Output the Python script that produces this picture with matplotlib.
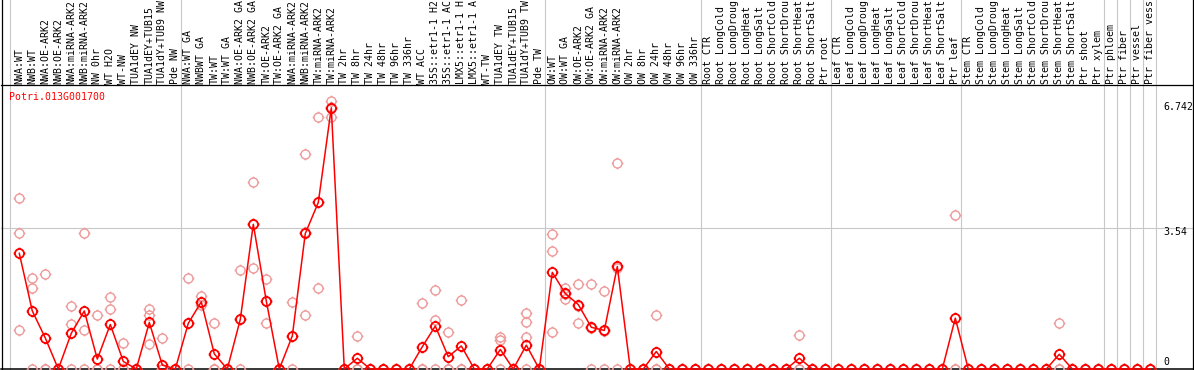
import numpy as np
import matplotlib
matplotlib.use("Agg")
import matplotlib.pyplot as plt
from matplotlib.path import Path

# ---------------- data ----------------
gene = "Potri.013G001700"

samples = [
    "NWA:WT", "NWB:WT", "NWA:OE-ARK2", "NWB:OE-ARK2", "NWA:miRNA-ARK2", "NWB:miRNA-ARK2",
    "NW 0hr", "WT H2O", "WT-NW", "TUA1dEY NW", "TUA1dEY+TUB15", "TUA1dY+TUB9 NW", "Pde NW",
    "NWA:WT GA", "NWBWT GA", "TW:WT", "TW:WT GA", "NWA:OE-ARK2 GA", "NWB:OE-ARK2 GA",
    "TW:OE-ARK2", "TW:OE-ARK2 GA", "NWA:miRNA-ARK2", "NWB:miRNA-ARK2", "TW:miRNA-ARK2",
    "TW:miRNA-ARK2", "TW 2hr", "TW 8hr", "TW 24hr", "TW 48hr", "TW 96hr", "TW 336hr",
    "WT ACC", "35S::etr1-1 H2", "35S::etr1-1 AC", "LMX5::etr1-1 H", "LMX5::etr1-1 A",
    "WT-TW", "TUA1dEY TW", "TUA1dEY+TUB15", "TUA1dY+TUB9 TW", "Pde TW",
    "OW:WT", "OW:WT GA", "OW:OE-ARK2", "OW:OE-ARK2 GA", "OW:miRNA-ARK2", "OW:miRNA-ARK2",
    "OW 2hr", "OW 8hr", "OW 24hr", "OW 48hr", "OW 96hr", "OW 336hr",
    "Root CTR", "Root LongCold", "Root LongDroug", "Root LongHeat", "Root LongSalt",
    "Root ShortCold", "Root ShortDrou", "Root ShortHeat", "Root ShortSalt", "Ptr root",
    "Leaf CTR", "Leaf LongCold", "Leaf LongDroug", "Leaf LongHeat", "Leaf LongSalt",
    "Leaf ShortCold", "Leaf ShortDrou", "Leaf ShortHeat", "Leaf ShortSalt", "Ptr leaf",
    "Stem CTR", "Stem LongCold", "Stem LongDroug", "Stem LongHeat", "Stem LongSalt",
    "Stem ShortCold", "Stem ShortDrou", "Stem ShortHeat", "Stem ShortSalt",
    "Ptr shoot", "Ptr xylem", "Ptr phloem", "Ptr fiber", "Ptr vessel", "Ptr fiber vess",
]

means = [
    2.91, 1.46, 0.78, 0.0, 0.90, 1.46, 0.25, 1.12, 0.19, 0.0, 1.17, 0.10, 0.0,
    1.15, 1.69, 0.38, 0.0, 1.25, 3.64, 1.71, 0.0, 0.83, 3.41, 4.19, 6.57,
    0.0, 0.27, 0.0, 0.0, 0.0, 0.0, 0.56, 1.08, 0.31, 0.58, 0.0, 0.0, 0.49, 0.0, 0.60, 0.0,
    2.43, 1.90, 1.62, 1.05, 0.97, 2.58, 0.0, 0.0, 0.44, 0.0, 0.0, 0.0,
    0.0, 0.0, 0.0, 0.0, 0.0, 0.0, 0.0, 0.27, 0.0, 0.0,
    0.0, 0.0, 0.0, 0.0, 0.0, 0.0, 0.0, 0.0, 0.0, 1.28,
    0.0, 0.0, 0.0, 0.0, 0.0, 0.0, 0.0, 0.37, 0.0,
    0.0, 0.0, 0.0, 0.0, 0.0, 0.0,
]

replicates = [
    [4.31, 3.43, 0.98], [2.30, 2.05, 0], [2.38, 0, 0], [0, 0, 0], [1.58, 1.13, 0],
    [3.43, 0.98, 0], [1.36, 0, 0], [1.82, 1.52, 0], [0.645, 0, 0], [0, 0, 0],
    [1.50, 1.37, 0.62], [0.77, 0, 0], [0, 0, 0],
    [2.30, 1.15, 0], [1.83, 1.69, 1.61], [1.15, 0, 0], [0, 0, 0], [2.50, 1.25, 0],
    [4.70, 3.64, 2.55], [2.26, 1.71, 1.15], [0, 0, 0], [1.68, 0.83, 0],
    [5.42, 3.44, 1.37], [6.33, 4.21, 2.03], [6.742, 6.58, 6.33],
    [0, 0, 0], [0.83, 0, 0], [0, 0, 0], [0, 0, 0], [0, 0, 0], [0, 0, 0],
    [1.65, 0, 0], [1.98, 1.23, 0], [0.92, 0, 0], [1.73, 0, 0], [0, 0, 0], [0, 0, 0],
    [0.81, 0.73, 0], [0, 0, 0], [1.42, 1.17, 0.81, 0], [0, 0, 0],
    [3.39, 2.98, 0.92], [2.05, 1.88, 1.77], [2.13, 1.58, 1.155], [2.13, 1.02, 0],
    [1.95, 0.96, 0], [5.19, 2.55, 0], [0, 0, 0], [0, 0, 0], [1.37, 0, 0],
    [0, 0, 0], [0, 0, 0], [0, 0, 0],
    [0, 0, 0], [0, 0, 0], [0, 0, 0], [0, 0, 0], [0, 0, 0], [0, 0, 0], [0, 0, 0],
    [0.85, 0, 0], [0, 0, 0], [0, 0, 0],
    [0, 0, 0], [0, 0, 0], [0, 0, 0], [0, 0, 0], [0, 0, 0], [0, 0, 0], [0, 0, 0],
    [0, 0, 0], [0, 0, 0], [3.87, 0, 0],
    [0, 0, 0], [0, 0, 0], [0, 0, 0], [0, 0, 0], [0, 0, 0], [0, 0, 0], [0, 0, 0],
    [1.15, 0, 0], [0, 0, 0],
    [0, 0, 0], [0, 0, 0], [0, 0, 0], [0, 0, 0], [0, 0, 0], [0, 0, 0],
]

y_ticks = [6.742, 3.54, 0]
y_tick_labels = ["6.742", "3.54", "0"]

# last sample index of each group (group separators drawn after these)
group_ends = [12, 40, 52, 62, 72, 83, 84, 85, 86, 87]

# ---------------- layout ----------------
W, H = 1194, 370
X0, DX = 19.3, 13.0          # pixel x of sample 0, pixel step
BASE, PPU = 369.0, 39.75      # pixel y of value 0, pixels per unit

def vx(px):
    return (px - X0) / DX

def vy(py):
    return (BASE - py) / PPU

fig = plt.figure(figsize=(W / 100, H / 100), dpi=100)
ax = fig.add_axes([0, 0, 1, 1])
ax.set_axis_off()
ax.set_xlim(vx(0), vx(W))
ax.set_ylim(vy(H), vy(0))

mono = "DejaVu Sans Mono"
fs = 7.1
grey = "#c8c8c8"
red = "#ff0000"
pink = "#ee9a9a"

# custom marker: circle with small ticks
circ = Path.unit_circle()
ticks = []
for dxv, dyv in [(0, 1), (0, -1), (1, 0), (-1, 0)]:
    ticks.append(Path([[dxv * 1.0, dyv * 1.0], [dxv * 1.3, dyv * 1.3]], [Path.MOVETO, Path.LINETO]))
mk = Path.make_compound_path(circ, *ticks)

x = np.arange(len(samples))

# grid lines
ax.plot([vx(10), vx(10)], [vy(0), vy(BASE)], color=grey, lw=0.8, zorder=1)
for g in group_ends:
    ax.plot([g + 0.4, g + 0.4], [vy(0), vy(BASE)], color=grey, lw=0.8, zorder=1)
ax.plot([vx(1), vx(1193)], [3.54, 3.54], color=grey, lw=0.8, zorder=1)

# borders
ax.plot([vx(1.5), vx(1.5)], [vy(0), vy(H)], color="black", lw=0.9, zorder=5)
ax.plot([vx(1192.5), vx(1192.5)], [vy(0), vy(H)], color="black", lw=0.9, zorder=5)
ax.plot([vx(1), vx(1193)], [vy(85), vy(85)], color="black", lw=0.9, zorder=5)
ax.plot([vx(1), vx(1193)], [0, 0], color="black", lw=1.1, zorder=2)

# header labels
for i, lab in enumerate(samples):
    ax.text(i, vy(83.5), lab, rotation=90, ha="center", va="bottom",
            fontfamily=mono, fontsize=fs, color="black")

# title
ax.text(vx(9), vy(97), gene, ha="left", va="center", fontfamily=mono, fontsize=fs, color=red)

# y labels
label_py = [107, 232, 362]
for lab, py in zip(y_tick_labels, label_py):
    ax.text(vx(1163), vy(py), lab, ha="left", va="center", fontfamily=mono, fontsize=fs, color="black")

# replicates
rx, ry = [], []
for i, reps in enumerate(replicates):
    for r in reps:
        rx.append(i)
        ry.append(r)
ax.plot(rx, ry, ls="none", marker=mk, ms=8.4, mfc="none", mec=pink, mew=1.0, zorder=3)

# mean line
ax.plot(x, means, color=red, lw=1.1, zorder=4)
ax.plot(x, means, ls="none", marker=mk, ms=8.4, mfc="none", mec=red, mew=1.3, zorder=4)

fig.savefig("out.png", dpi=100)
